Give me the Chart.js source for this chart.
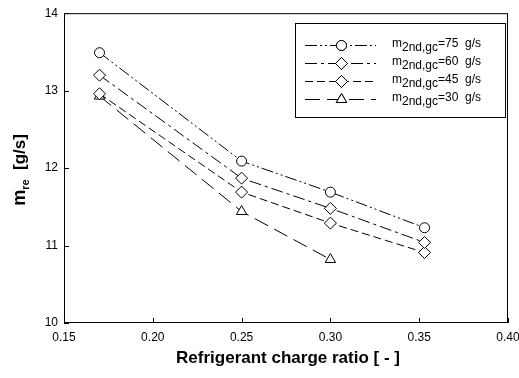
<!DOCTYPE html>
<html>
<head>
<meta charset="utf-8">
<script src="https://cdn.jsdelivr.net/npm/chart.js@4/dist/chart.umd.min.js"></script>
<style>
  html, body { margin: 0; padding: 0; background: #fff; }
  #wrap { width: 519px; height: 378px; }
</style>
</head>
<body>
<div id="wrap"><canvas id="chart" width="519" height="378"></canvas></div>
<script>
// charge ratio values (x)
const chargeX = [0.17, 0.25, 0.30, 0.353];
const chargeX30 = [0.17, 0.25, 0.30];

// refrigerant mass flow m_re [g/s]
const flow75 = [13.49, 12.09, 11.69, 11.23];
const flow60 = [13.20, 11.87, 11.48, 11.04];
const flow45 = [12.96, 11.69, 11.29, 10.91];
const flow30 = [12.93, 11.44, 10.82];

const seriesLabels = ['75', '60', '45', '30'];
const xTicks = [0.15, 0.20, 0.25, 0.30, 0.35, 0.40];
const yTicks = [10, 11, 12, 13, 14];

const FONT = '"Liberation Sans", Arial, sans-serif';

function toPoints(xs, ys) {
    return xs.map((x, i) => ({ x: x, y: ys[i] }));
}

function makeSet(label, xs, ys, style, radius, dash) {
    return {
        label: label,
        data: toPoints(xs, ys),
        borderColor: '#000',
        backgroundColor: '#fff',
        borderWidth: 1,
        borderDash: dash,
        pointStyle: style,
        pointRadius: radius,
        pointBorderColor: '#000',
        pointBackgroundColor: '#fff',
        pointBorderWidth: 1,
        showLine: true,
        tension: 0
    };
}

// frame, inward ticks, axis titles and the subscript legend
const decorations = {
    id: 'decorations',
    afterDraw(chart) {
        const ctx = chart.ctx;
        const a = chart.chartArea;
        const xs = chart.scales.x;
        const ys = chart.scales.y;
        ctx.save();
        ctx.strokeStyle = '#000';
        ctx.lineWidth = 1;
        ctx.strokeRect(a.left + 0.5, a.top + 0.5, a.right - a.left - 1, a.bottom - a.top - 1);

        ctx.beginPath();
        xTicks.forEach(v => {
            const px = Math.round(xs.getPixelForValue(v)) + 0.5;
            ctx.moveTo(px, a.bottom);
            ctx.lineTo(px, a.bottom - 5);
        });
        yTicks.forEach(v => {
            const py = Math.round(ys.getPixelForValue(v)) + 0.5;
            ctx.moveTo(a.left, py);
            ctx.lineTo(a.left + 5, py);
        });
        ctx.stroke();

        // x title
        ctx.fillStyle = '#000';
        ctx.font = 'bold 17px ' + FONT;
        ctx.textAlign = 'center';
        ctx.textBaseline = 'middle';
        ctx.fillText('Refrigerant charge ratio [ - ]', 288, 358);

        // y title with subscript
        ctx.save();
        ctx.translate(19, 170);
        ctx.rotate(-Math.PI / 2);
        ctx.textAlign = 'left';
        ctx.textBaseline = 'alphabetic';
        ctx.font = 'bold 18px ' + FONT;
        const wM = ctx.measureText('m').width;
        ctx.font = 'bold 11px ' + FONT;
        const wSub = ctx.measureText('re').width;
        ctx.font = 'bold 17px ' + FONT;
        const wRest = ctx.measureText('  [g/s]').width;
        let sx = -(wM + wSub + wRest) / 2;
        ctx.font = 'bold 18px ' + FONT;
        ctx.fillText('m', sx, 6);
        sx += wM;
        ctx.font = 'bold 11px ' + FONT;
        ctx.fillText('re', sx, 10);
        sx += wSub;
        ctx.font = 'bold 17px ' + FONT;
        ctx.fillText('  [g/s]', sx, 6);
        ctx.restore();

        // legend box
        ctx.strokeRect(295.5, 23.5, 210, 94);
        const rowY = [45, 63, 81, 99];
        chart.data.datasets.forEach((ds, i) => {
            const y = rowY[i] + 0.5;
            ctx.save();
            ctx.setLineDash(ds.borderDash);
            ctx.beginPath();
            ctx.moveTo(305, y);
            ctx.lineTo(376, y);
            ctx.stroke();
            ctx.restore();
            ctx.save();
            ctx.fillStyle = '#fff';
            Chart.helpers.drawPoint(ctx, {
                pointStyle: ds.pointStyle,
                radius: ds.pointRadius,
                borderWidth: 1,
                rotation: 0
            }, 341.5, y);
            ctx.fill();
            ctx.stroke();
            ctx.restore();

            ctx.fillStyle = '#000';
            ctx.textAlign = 'left';
            ctx.textBaseline = 'alphabetic';
            let tx = 392;
            ctx.font = '12px ' + FONT;
            ctx.fillText('m', tx, y + 1);
            tx += ctx.measureText('m').width;
            ctx.font = '12px ' + FONT;
            ctx.fillText('2nd,gc', tx, y + 5);
            tx += ctx.measureText('2nd,gc').width;
            ctx.font = '12px ' + FONT;
            ctx.fillText('=' + seriesLabels[i] + '  g/s', tx, y + 1);
        });
        ctx.restore();
    }
};

new Chart(document.getElementById('chart'), {
    type: 'scatter',
    data: {
        datasets: [
            makeSet('75', chargeX, flow75, 'circle', 5, [12, 3, 2, 3, 2, 3]),
            makeSet('60', chargeX, flow60, 'rectRot', 6, [12, 4, 3, 4]),
            makeSet('45', chargeX, flow45, 'rectRot', 6, [8, 4]),
            makeSet('30', chargeX30, flow30, 'triangle', 6, [15, 7])
        ]
    },
    options: {
        responsive: false,
        animation: false,
        layout: { padding: { left: 0, right: 0, top: 13, bottom: 0 } },
        plugins: {
            legend: { display: false },
            tooltip: { enabled: false }
        },
        scales: {
            x: {
                type: 'linear',
                min: 0.15,
                max: 0.40,
                afterBuildTicks: s => { s.ticks = xTicks.map(v => ({ value: v })); },
                afterFit: s => { s.height = 55; s.paddingRight = 11; },
                grid: { display: false, drawTicks: false },
                border: { display: false },
                ticks: {
                    color: '#000',
                    padding: 7,
                    maxRotation: 0,
                    font: { family: FONT, size: 12 },
                    callback: v => v.toFixed(2)
                }
            },
            y: {
                type: 'linear',
                min: 10,
                max: 14,
                afterBuildTicks: s => { s.ticks = yTicks.map(v => ({ value: v })); },
                afterFit: s => { s.width = 64; },
                grid: { display: false, drawTicks: false },
                border: { display: false },
                ticks: {
                    color: '#000',
                    padding: 6,
                    font: { family: FONT, size: 12 },
                    callback: v => String(v)
                }
            }
        }
    },
    plugins: [decorations]
});
</script>
</body>
</html>
